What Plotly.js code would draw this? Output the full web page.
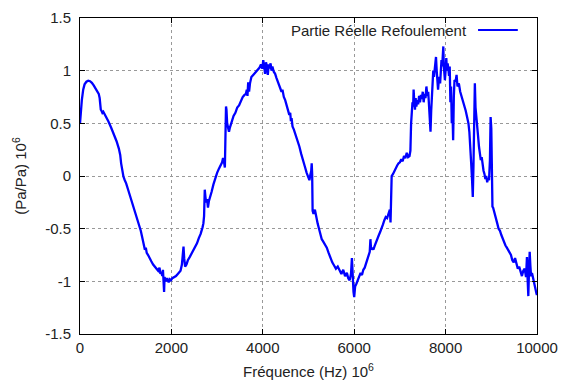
<!DOCTYPE html>
<html>
<head>
<meta charset="utf-8">
<script src="https://cdn.plot.ly/plotly-3.0.1.min.js"></script>
<style>html,body{margin:0;padding:0;background:#fff;}#chart{width:561px;height:381px;}</style>
</head>
<body>
<div id="chart"></div>
<script>
const seriesName = "Partie Réelle Refoulement";
const xTitle = "Fréquence (Hz) 10<sup>6</sup>";
const yTitle = "(Pa/Pa) 10<sup>6</sup>";
const xTicks = [0, 2000, 4000, 6000, 8000, 10000];
const yTicks = [-1.5, -1, -0.5, 0, 0.5, 1, 1.5];

const freqA = [0,20,40,70,100,140,180,220,260,300,340,380,410,430,445,455,470,490,510,540,580,620,680,740,800,850,880,900,930,950,980,1010,1060,1110,1160,1210,1260,1300,1330,1360,1380,1400,1420,1440,1460,1490,1520,1560,1600,1640,1680,1710,1740,1760,1780,1800,1815,1830,1840,1850,1865,1880,1900,1920,1940,1960,1990,2020,2060,2100,2140,2180];
const realA = [0.5,0.62,0.72,0.82,0.87,0.895,0.905,0.9,0.885,0.86,0.83,0.8,0.78,0.74,0.66,0.63,0.62,0.6,0.61,0.585,0.56,0.52,0.46,0.40,0.33,0.26,0.2,0.12,0.03,-0.005,-0.04,-0.07,-0.14,-0.21,-0.27,-0.34,-0.41,-0.46,-0.52,-0.58,-0.62,-0.66,-0.70,-0.68,-0.73,-0.75,-0.78,-0.81,-0.84,-0.86,-0.88,-0.90,-0.87,-0.93,-0.91,-0.95,-0.89,-1.02,-1.10,-0.96,-0.98,-1.0,-0.97,-0.99,-1.01,-0.98,-0.99,-0.97,-0.96,-0.95,-0.93,-0.91];

const freqB = [2200,2230,2250,2265,2280,2300,2330,2360,2400,2440,2480,2520,2560,2600,2640,2680,2700,2715,2730,2745,2760,2780,2800,2820,2850,2880,2920,2960,3000,3040,3080,3110,3130,3150,3170,3185,3195,3205,3220,3240,3260,3280,3300,3330,3360,3400,3440,3480,3520,3560,3600,3630,3650,3665,3680,3700,3720,3750,3790,3830,3870,3900,3930,3960,3990,4010,4030,4050,4070,4090,4110,4130,4150,4170,4190];
const realB = [-0.9,-0.84,-0.76,-0.67,-0.78,-0.86,-0.84,-0.8,-0.77,-0.74,-0.71,-0.68,-0.64,-0.59,-0.55,-0.49,-0.45,-0.38,-0.13,-0.2,-0.25,-0.22,-0.3,-0.24,-0.18,-0.15,-0.08,-0.02,0.03,0.07,0.11,0.13,0.17,0.14,0.08,0.3,0.66,0.63,0.5,0.45,0.42,0.46,0.49,0.53,0.57,0.6,0.65,0.67,0.71,0.75,0.77,0.78,0.82,0.76,0.89,0.8,0.88,0.94,0.96,0.98,1.0,1.01,1.03,1.06,1.02,1.1,1.05,0.97,1.08,1.04,0.96,1.06,1.02,1.07,1.0];

const freqC = [4210,4240,4270,4300,4340,4380,4410,4430,4460,4490,4520,4550,4580,4600,4615,4630,4650,4680,4720,4760,4800,4840,4880,4920,4960,4990,5020,5040,5060,5070,5080,5090,5110,5140,5170,5200,5230,5260,5290,5320,5360,5400,5440,5480,5520,5560,5600,5640,5680,5720,5760,5800,5840,5870,5900,5930,5950,5965,5985,6000,6020,6050,6080,6110,6140,6170,6200,6230,6260,6290,6320,6340,6355,6370,6400];
const realC = [1.04,0.99,0.97,0.93,0.88,0.84,0.8,0.82,0.75,0.72,0.67,0.63,0.58,0.6,0.52,0.55,0.47,0.44,0.39,0.34,0.28,0.21,0.16,0.09,0.03,0.0,-0.04,0.01,0.05,0.12,0.02,-0.33,-0.36,-0.32,-0.4,-0.45,-0.5,-0.55,-0.6,-0.62,-0.65,-0.68,-0.73,-0.78,-0.82,-0.85,-0.88,-0.86,-0.9,-0.93,-0.89,-0.95,-0.92,-0.97,-0.99,-0.93,-0.78,-0.95,-1.1,-1.15,-1.05,-1.02,-0.98,-0.96,-0.92,-0.94,-0.89,-0.87,-0.83,-0.8,-0.76,-0.72,-0.6,-0.7,-0.68];

const freqD = [6420,6450,6480,6510,6540,6570,6600,6630,6660,6690,6720,6750,6780,6795,6805,6820,6850,6880,6910,6940,6970,7000,7030,7060,7090,7120,7150,7180,7210,7230,7245,7260,7275,7290,7300,7315,7330,7345,7360,7380,7400,7420,7440,7460,7480,7500,7520,7540,7560,7580,7600,7620,7640,7655,7670,7685,7700,7715,7730,7745,7760,7775,7790,7805,7820,7835,7850,7865,7880,7895,7910,7925,7940,7950,7960,7970,7985,8000,8015,8030,8045,8060,8075,8090,8105,8120,8135,8150,8165,8180,8195];
const realD = [-0.7,-0.66,-0.62,-0.6,-0.56,-0.53,-0.5,-0.46,-0.42,-0.39,-0.4,-0.36,-0.32,-0.44,-0.02,0.0,0.02,0.05,0.08,0.1,0.12,0.13,0.16,0.14,0.19,0.17,0.22,0.18,0.19,0.24,0.5,0.62,0.7,0.66,0.82,0.7,0.63,0.74,0.66,0.72,0.68,0.76,0.7,0.77,0.73,0.8,0.7,0.78,0.74,0.85,0.76,0.8,0.68,0.6,0.42,0.62,0.75,0.9,1.0,0.94,1.02,1.08,1.13,1.0,0.86,0.82,0.9,0.94,0.88,1.02,1.1,1.04,1.15,1.23,1.05,1.0,0.91,1.0,1.12,1.0,1.07,1.02,0.95,1.04,0.7,0.85,0.5,0.62,0.34,0.75,0.91];

const freqE = [8220,8240,8260,8290,8320,8350,8380,8410,8440,8470,8500,8520,8540,8560,8580,8595,8610,8625,8640,8655,8670,8690,8710,8730,8750,8770,8790,8810,8830,8850,8870,8890,8910,8930,8950,8970,8985,9000,9010,9025,9040,9060,9080,9100,9130,9160,9190,9220,9250,9280,9310,9340,9370,9400,9430,9460,9490,9520,9550,9580,9610,9640,9670,9700,9730,9760,9780,9795,9810,9825,9840,9855,9870,9890,9910,9930,9950,9970,9990,10000];
const realE = [0.9,0.96,0.85,0.88,0.8,0.76,0.72,0.66,0.62,0.56,0.5,0.42,0.3,0.12,-0.05,-0.2,0.1,0.62,0.88,0.65,0.55,0.45,0.38,0.28,0.22,0.15,0.18,0.1,0.05,0.02,-0.03,0.0,-0.06,-0.02,-0.04,0.15,0.56,0.45,0.05,-0.29,-0.3,-0.34,-0.38,-0.42,-0.45,-0.5,-0.52,-0.56,-0.6,-0.62,-0.66,-0.68,-0.7,-0.72,-0.75,-0.8,-0.82,-0.78,-0.84,-0.88,-0.86,-0.92,-0.95,-0.9,-0.88,-0.96,-0.77,-0.98,-1.14,-0.9,-0.72,-0.85,-0.95,-0.92,-0.98,-1.0,-1.04,-1.1,-1.12,-1.13];

const freq = [].concat(freqA, freqB, freqC, freqD, freqE);
const real = [].concat(realA, realB, realC, realD, realE);

const FONT = 'Liberation Sans, Arial, sans-serif';
const FS = 15;
const trace = {
  x: freq, y: real, type: 'scatter', mode: 'lines', name: seriesName,
  line: {color: '#0000ff', width: 2.3}, showlegend: false
};
const axisCommon = {
  showline: true, linecolor: '#000', linewidth: 1, mirror: 'ticks',
  ticks: 'inside', ticklen: 5, tickcolor: '#000',
  showgrid: true, gridcolor: '#999', griddash: 'dot', gridwidth: 1,
  zeroline: false, tickfont: {family: FONT, size: FS, color: '#222'}
};
const layout = {
  width: 561, height: 381,
  margin: {l: 80, r: 24, t: 18, b: 47},
  paper_bgcolor: '#fff', plot_bgcolor: '#fff',
  showlegend: false,
  xaxis: Object.assign({}, axisCommon, {
    range: [0, 10000], tickvals: xTicks, ticktext: xTicks.map(String),
    title: {text: xTitle, font: {family: FONT, size: FS, color: '#222'}, standoff: 11}
  }),
  yaxis: Object.assign({}, axisCommon, {
    range: [-1.5, 1.5], tickvals: yTicks, ticktext: yTicks.map(String),
    ticklabelstandoff: 5,
    title: {text: yTitle, font: {family: FONT, size: FS, color: '#222'}, standoff: 14}
  }),
  annotations: [{
    xref: 'paper', yref: 'paper', x: 0.852, y: 0.959, xanchor: 'right', yanchor: 'middle',
    text: seriesName, showarrow: false, font: {family: FONT, size: FS, color: '#222'}
  }],
  shapes: [{
    type: 'line', xref: 'paper', yref: 'paper', x0: 0.871, x1: 0.958, y0: 0.962, y1: 0.962,
    line: {color: '#0000ff', width: 2}
  }]
};
Plotly.newPlot('chart', [trace], layout, {staticPlot: true, displayModeBar: false});
</script>
</body>
</html>
